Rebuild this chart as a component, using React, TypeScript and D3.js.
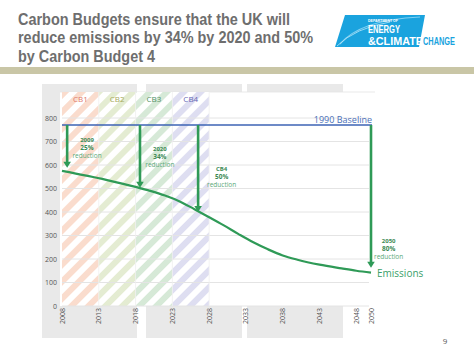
import React from "react";
import * as d3 from "d3";

const titleLines = [
  "Carbon Budgets ensure that the UK will",
  "reduce emissions by 34% by 2020 and 50%",
  "by Carbon Budget 4",
];
const yTicks = [0, 100, 200, 300, 400, 500, 600, 700, 800];
const xTickYears = [2008, 2013, 2018, 2023, 2028, 2033, 2038, 2043, 2048, 2050];
const baselineValue = 770;
const budgets = ["CB1", "CB2", "CB3", "CB4"];
const budgetStart = [2008, 2013, 2018, 2023];
const budgetEnd = [2013, 2018, 2023, 2028];
const budgetStripe = ["#fadccd", "#e4ecd2", "#d6e9d7", "#dedef1"];
const budgetLabelColor = ["#e0786a", "#a6a95a", "#4f8f62", "#6668b4"];
const emYears = [2008, 2014, 2018, 2020, 2022, 2024, 2026, 2028, 2030, 2032, 2034, 2036, 2038, 2040, 2043, 2046, 2048, 2050];
const emValues = [575, 537, 507, 490, 470, 445, 412, 378, 343, 306, 271, 241, 215, 197, 176, 160, 150, 142];
const arrowYears = [2008.7, 2018.6, 2026.5, 2050];
const arrowTargets = [588, 503, 400, 163];
const annoYear = ["2009", "2020", "CB4", "2050"];
const annoPct = ["25%", "34%", "50%", "80%"];
const annoX = [2011.4, 2021.3, 2029.7, 2052.4];
const annoValTop = [698, 660, 574, 268];

export default function App() {
  const x = d3.scaleLinear().domain([2008, 2050]).range([62, 371]);
  const y = d3.scaleLinear().domain([0, 800]).range([306, 118]);
  const line = d3
    .line<number>()
    .x((_, i) => x(emYears[i]))
    .y((d) => y(d))
    .curve(d3.curveMonotoneX);
  const green = "#2f9a57";
  const gray = "#e9e9e9";
  return (
    <svg
      width={474}
      height={355}
      style={{ position: "absolute", left: 0, top: 0, background: "#fff" }}
      fontFamily="'Open Sans', sans-serif"
    >
      <defs>
        {budgets.map((b, i) => (
          <pattern
            key={b}
            id={"hatch" + i}
            patternUnits="userSpaceOnUse"
            width={12}
            height={12}
            patternTransform="rotate(45)"
          >
            <rect width={12} height={12} fill="#fff" />
            <rect width={6} height={12} fill={budgetStripe[i]} />
          </pattern>
        ))}
      </defs>
      {/* title */}
      {titleLines.map((t, i) => (
        <text
          key={i}
          x={18}
          y={25 + i * 18.3}
          fontFamily="'Liberation Sans', Arial, sans-serif"
          fontWeight="bold"
          fontSize={16}
          fill="#6e6e6e"
          textLength={[272, 295, 137][i]}
          lengthAdjust="spacingAndGlyphs"
        >
          {t}
        </text>
      ))}
      {/* logo */}
      <g fontFamily="'Liberation Sans', Arial" fontWeight="bold">
        <polygon points="345,15 425,15 419,47 335,47" fill="#1aa3de" />
        <path d="M340,44 Q360,20 420,17" stroke="#7fd0f2" strokeWidth={1.2} fill="none" />
        <path d="M337,46 Q355,28 390,22" stroke="#b8e6f8" strokeWidth={0.8} fill="none" />
        <text x={368} y={22} fontSize={3.5} fill="#fff" textLength={30} lengthAdjust="spacingAndGlyphs">DEPARTMENT OF</text>
        <text x={368} y={33} fontSize={11} fill="#fff" textLength={32} lengthAdjust="spacingAndGlyphs">ENERGY</text>
        <text x={368} y={44.5} fontSize={10} fill="#fff" textLength={55} lengthAdjust="spacingAndGlyphs">
          &amp;CLIMATE
        </text>
        <text x={423} y={44.5} fontSize={10} fill="#1aa3de" textLength={32} lengthAdjust="spacingAndGlyphs">
          CHANGE
        </text>
      </g>
      {/* separator bar */}
      <rect x={0} y={67} width={474} height={7} fill="#c9c6a6" />
      {/* gray panels */}
      <rect x={42} y={84} width={95} height={254} fill={gray} />
      <rect x={146} y={84} width={96} height={254} fill={gray} />
      <rect x={247} y={84} width={96} height={254} fill={gray} />
      {/* plot area */}
      <rect x={60} y={92} width={315} height={214} fill="#fff" />
      <line x1={60} x2={375} y1={92} y2={92} stroke="#e3e3e3" strokeWidth={0.8} />
      {/* budget hatches */}
      {budgets.map((b, i) => (
        <rect
          key={b}
          x={x(budgetStart[i])}
          y={92}
          width={x(budgetEnd[i]) - x(budgetStart[i])}
          height={306 - 92}
          fill={`url(#hatch${i})`}
        />
      ))}
      {/* grid */}
      {yTicks.map((t) => (
        <line key={t} x1={62} x2={369} y1={y(t)} y2={y(t)} stroke="#e4e4e4" strokeWidth={1} />
      ))}
      {budgetEnd.map((t) => (
        <line key={t} x1={x(t)} x2={x(t)} y1={92} y2={306} stroke="#efefef" strokeWidth={0.8} />
      ))}
      {/* y labels */}
      {yTicks.map((t) => (
        <text key={t} x={57} y={y(t) + 2.5} fontSize={7} fill="#555" textAnchor="end">
          {t}
        </text>
      ))}
      {/* x labels */}
      {xTickYears.map((t) => (
        <text
          key={t}
          transform={`translate(${x(t) + 2.5},308) rotate(-90)`}
          fontSize={7}
          fill="#555"
          textAnchor="end"
        >
          {t}
        </text>
      ))}
      {/* CB labels */}
      {budgets.map((b, i) => (
        <text
          key={b}
          x={(x(budgetStart[i]) + x(budgetEnd[i])) / 2}
          y={102}
          fontSize={8}
          fill={budgetLabelColor[i]}
          textAnchor="middle"
        >
          {b}
        </text>
      ))}
      {/* baseline */}
      <line x1={62} x2={372} y1={y(baselineValue)} y2={y(baselineValue)} stroke="#3d63b5" strokeWidth={1.6} />
      <text x={372} y={y(baselineValue) - 2.5} fontSize={9} fill="#4a6fb8" textAnchor="end">
        1990 Baseline
      </text>
      {/* emissions */}
      <path d={line(emValues) || ""} fill="none" stroke={green} strokeWidth={2.2} />
      <text x={377} y={276.5} fontSize={10} fill="#3aa06a">
        Emissions
      </text>
      {/* arrows */}
      {arrowYears.map((yr, i) => {
        const ax = x(yr);
        const y0 = y(baselineValue);
        const y1 = y(arrowTargets[i]);
        return (
          <g key={yr}>
            <line x1={ax} x2={ax} y1={y0} y2={y1 - 5} stroke={green} strokeWidth={2.6} />
            <polygon points={`${ax - 3.8},${y1 - 6} ${ax + 3.8},${y1 - 6} ${ax},${y1}`} fill={green} />
          </g>
        );
      })}
      {/* annotations */}
      {arrowYears.map((yr, i) => {
        const cx = x(annoX[i]);
        const ty = y(annoValTop[i]);
        return (
          <g key={yr} textAnchor="middle">
            <text x={cx} y={ty} fontSize={6} fontWeight="bold" fill="#3c8a55">
              {annoYear[i]}
            </text>
            <text x={cx} y={ty + 8} fontSize={6.5} fontWeight="bold" fill="#3c8a55">
              {annoPct[i]}
            </text>
            <text x={cx} y={ty + 16} fontSize={6.5} fill="#5aa878">
              reduction
            </text>
          </g>
        );
      })}
      <text x={445} y={344} fontSize={8} fill="#555" textAnchor="middle">
        9
      </text>
    </svg>
  );
}
